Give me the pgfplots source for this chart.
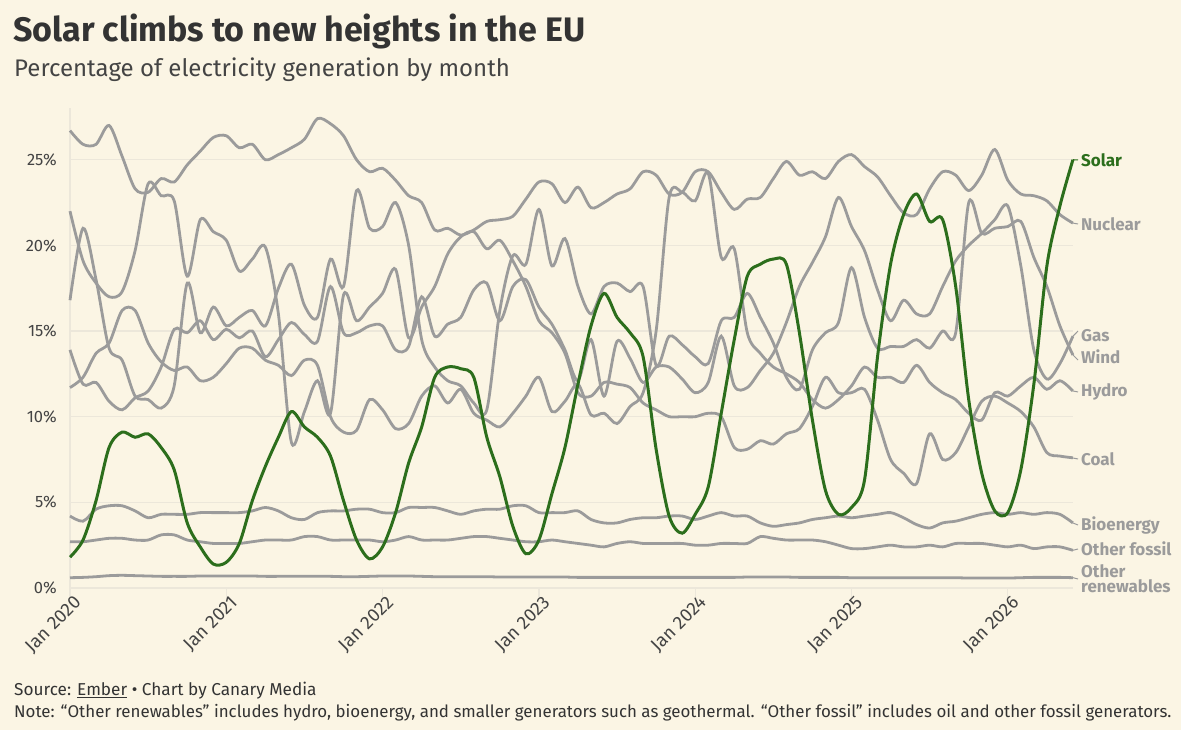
\documentclass[border=0pt]{standalone}
\usepackage{fontspec}
\setmainfont{Fira Sans}
\usepackage{pgfplots}
\usepackage{pgfplotstable}
\pgfplotsset{compat=1.18}
\definecolor{bg}{RGB}{251,245,228}
\definecolor{gridc}{RGB}{236,231,218}
\definecolor{lg}{RGB}{155,155,155}
\definecolor{sol}{RGB}{44,110,28}
\definecolor{txt}{RGB}{51,51,51}
\definecolor{txt2}{RGB}{68,68,68}

\pgfplotstableread{
i nuc coal wind gas hydro solar bio ofos oren
0 26.7 22.0 16.8 13.9 11.7 1.8 4.2 2.7 0.60
1 25.9 19.1 21.0 11.9 12.3 2.8 3.9 2.7 0.62
2 25.9 17.8 18.0 12.0 13.7 5.1 4.6 2.8 0.66
3 27.0 17.0 14.0 10.9 14.3 8.2 4.8 2.9 0.72
4 25.2 17.3 13.3 10.4 16.2 9.1 4.8 2.9 0.74
5 23.3 19.7 11.2 11.1 16.2 8.8 4.5 2.8 0.72
6 23.1 23.6 11.0 11.5 14.3 9.0 4.1 2.8 0.70
7 23.9 22.9 10.5 12.9 13.2 8.2 4.3 3.1 0.68
8 23.7 22.6 11.8 15.1 12.7 6.9 4.3 3.1 0.68
9 24.7 18.2 17.8 14.9 12.9 3.8 4.3 2.8 0.68
10 25.5 21.5 14.9 15.6 12.1 2.4 4.4 2.7 0.70
11 26.3 20.8 16.4 14.5 12.3 1.4 4.4 2.6 0.70
12 26.4 20.3 15.3 15.1 13.1 1.5 4.4 2.6 0.70
13 25.7 18.5 15.8 14.6 14.0 2.6 4.4 2.6 0.70
14 25.9 19.2 16.2 15.0 14.0 5.1 4.5 2.7 0.70
15 25.0 19.9 15.3 13.5 13.3 7.1 4.7 2.8 0.68
16 25.3 16.0 17.5 14.5 13.0 8.8 4.5 2.8 0.68
17 25.7 8.5 18.9 15.5 12.4 10.3 4.1 2.8 0.68
18 26.2 10.3 16.5 14.8 13.3 9.4 4.0 3.0 0.68
19 27.4 12.1 15.8 14.4 13.0 8.8 4.4 3.0 0.68
20 27.1 10.2 19.2 17.6 10.0 7.7 4.5 2.8 0.68
21 26.4 17.1 17.6 14.9 9.1 5.1 4.5 2.8 0.66
22 25.0 15.6 23.2 14.9 9.2 2.8 4.6 2.8 0.66
23 24.3 16.4 21.0 15.3 11.0 1.7 4.6 2.8 0.68
24 24.5 17.2 21.1 15.3 10.4 2.4 4.4 2.7 0.70
25 23.8 18.6 22.5 13.9 9.3 4.4 4.4 2.8 0.70
26 22.9 14.6 20.0 14.1 9.6 7.3 4.7 3.0 0.70
27 22.5 16.4 14.5 17.0 11.2 9.4 4.7 2.8 0.68
28 20.9 17.6 12.9 14.7 11.8 12.3 4.7 2.8 0.66
29 21.0 19.5 12.1 15.4 10.8 12.9 4.5 2.8 0.66
30 20.6 20.5 11.8 15.8 11.6 12.8 4.3 2.9 0.66
31 20.9 20.8 10.8 17.4 10.2 12.3 4.5 3.0 0.66
32 21.4 19.8 10.4 17.8 9.8 8.8 4.6 3.0 0.66
33 21.5 20.3 16.2 15.6 9.4 6.5 4.6 2.9 0.64
34 21.7 19.1 19.4 17.6 10.2 3.6 4.8 2.8 0.64
35 22.7 17.6 18.9 18.0 11.2 2.0 4.8 2.7 0.64
36 23.7 15.6 22.1 16.4 12.3 2.8 4.4 2.7 0.64
37 23.6 14.9 18.8 15.4 10.3 5.5 4.4 2.8 0.64
38 22.5 13.7 20.4 13.9 10.9 8.2 4.4 2.7 0.64
39 23.4 11.4 17.6 12.1 11.9 11.9 4.5 2.6 0.62
40 22.2 11.2 16.0 14.5 10.1 15.3 4.0 2.5 0.62
41 22.5 12.0 17.6 11.2 10.2 17.2 3.8 2.4 0.62
42 23.0 11.9 17.8 14.4 9.6 15.8 3.8 2.6 0.62
43 23.3 11.7 17.3 13.4 10.6 14.9 4.0 2.7 0.62
44 24.3 10.8 17.6 12.0 11.4 13.5 4.1 2.6 0.62
45 24.1 10.4 13.0 12.9 15.0 8.1 4.1 2.6 0.62
46 23.0 10.0 14.7 12.9 22.8 4.2 4.2 2.6 0.62
47 23.1 10.0 14.2 12.2 23.1 3.2 4.2 2.6 0.62
48 24.3 10.0 13.5 11.4 22.6 4.3 4.0 2.5 0.62
49 24.3 10.2 13.1 12.0 24.2 5.9 4.2 2.5 0.62
50 23.1 10.0 15.6 14.7 19.3 10.2 4.4 2.6 0.62
51 22.1 8.2 15.8 11.8 19.8 14.5 4.2 2.6 0.62
52 22.7 8.1 17.2 11.7 14.9 18.2 4.2 2.6 0.64
53 22.8 8.6 15.8 12.7 13.7 18.9 3.8 3.0 0.64
54 23.9 8.4 14.3 13.7 12.9 19.2 3.6 2.9 0.64
55 24.9 9.0 12.3 15.5 12.5 18.9 3.7 2.8 0.64
56 24.1 9.3 11.6 17.6 12.0 14.9 3.8 2.8 0.62
57 24.3 10.6 13.9 19.0 11.0 9.8 4.0 2.8 0.62
58 23.9 12.3 14.9 20.5 10.5 5.7 4.1 2.7 0.62
59 24.9 11.4 15.5 22.8 11.0 4.3 4.2 2.5 0.62
60 25.3 11.4 18.7 21.1 11.8 4.7 4.1 2.3 0.60
61 24.6 11.6 15.8 19.7 12.9 6.3 4.2 2.3 0.60
62 24.0 9.8 14.0 17.4 12.3 13.5 4.3 2.4 0.60
63 22.9 7.5 14.1 15.6 12.3 18.9 4.4 2.5 0.60
64 21.9 6.7 14.1 16.8 12.0 21.8 4.1 2.4 0.60
65 21.8 6.1 14.5 16.0 13.0 23.0 3.7 2.4 0.60
66 23.3 9.0 14.0 16.0 12.0 21.4 3.5 2.5 0.60
67 24.3 7.5 15.0 17.6 11.4 21.5 3.8 2.4 0.60
68 24.1 7.9 14.9 19.1 11.0 17.6 3.9 2.6 0.60
69 23.2 9.4 22.5 20.0 10.2 11.0 4.1 2.6 0.58
70 24.1 10.9 20.7 20.7 9.8 6.7 4.3 2.6 0.58
71 25.6 11.2 21.0 21.5 11.4 4.5 4.4 2.5 0.58
72 23.8 10.8 21.1 22.3 11.2 4.4 4.3 2.4 0.58
73 23.0 10.3 21.4 18.8 11.8 6.9 4.4 2.5 0.60
74 22.9 9.4 19.3 13.9 12.3 11.9 4.3 2.3 0.62
75 22.6 7.9 17.6 12.2 11.6 18.8 4.4 2.4 0.62
76 21.8 7.7 15.3 13.1 12.1 22.3 4.3 2.4 0.62
77 21.3 7.6 13.6 14.7 11.5 25.0 3.8 2.2 0.60
}\data

\begin{document}
\begin{tikzpicture}[x=1pt,y=1pt]
\path[use as bounding box] (0pt,0pt) rectangle (1181pt,730pt);
\fill[bg] (0pt,0pt) rectangle (1181pt,730pt);
\node[anchor=base west, inner sep=0pt, text=txt, font=\fontsize{34}{40}\selectfont\bfseries] at (13pt,688.5pt) {Solar climbs to new heights in the EU};
\node[anchor=base west, inner sep=0pt, text=txt2, font=\fontsize{24}{29}\selectfont] at (14pt,653.5pt) {Percentage of electricity generation by month};
\node[anchor=base west, inner sep=0pt, text=txt, font=\fontsize{17.2}{20}\selectfont] at (14pt,34pt) {Source: \underline{Ember} • Chart by Canary Media};
\node[anchor=base west, inner sep=0pt, text=txt, font=\fontsize{16.9}{20}\selectfont] at (14pt,12.5pt) {Note: “Other renewables” includes hydro, bioenergy, and smaller generators such as geothermal. “Other fossil” includes oil and other fossil generators.};

\begin{axis}[
  at={(70pt,142pt)}, anchor=origin, scale only axis,
  width=1003pt, height=479.64pt,
  xmin=0, xmax=77, ymin=0, ymax=28,
  axis x line*=bottom, axis y line*=left,
  x axis line style={draw=none},
  y axis line style={draw=gridc, line width=1.2pt},
  axis line style={-},
  ymajorgrids, grid style={draw=gridc, line width=1.2pt},
  ytick={0,5,10,15,20,25},
  yticklabels={0\%,5\%,10\%,15\%,20\%,25\%},
  ytick style={draw=none},
  yticklabel style={font=\fontsize{16.5}{19}\selectfont, text=txt2, anchor=east, inner sep=0pt, xshift=-13pt},
  xtick={0,12,24,36,48,60,72},
  xticklabels={Jan 2020,Jan 2021,Jan 2022,Jan 2023,Jan 2024,Jan 2025,Jan 2026},
  xtick align=outside, major tick length=9pt,
  xtick style={draw=gridc, line width=1.2pt},
  xticklabel style={font=\fontsize{18.5}{21}\selectfont, text=txt2, rotate=45, anchor=east, inner sep=0pt, xshift=4pt, yshift=-8pt},
  clip=false,
  every axis plot/.append style={smooth, tension=0.5},
]
\addplot[lg, line width=2.8pt] table[x=i,y=oren]{\data};
\addplot[lg, line width=2.8pt] table[x=i,y=ofos]{\data};
\addplot[lg, line width=2.8pt] table[x=i,y=bio]{\data};
\addplot[lg, line width=2.8pt] table[x=i,y=coal]{\data};
\addplot[lg, line width=2.8pt] table[x=i,y=hydro]{\data};
\addplot[lg, line width=2.8pt] table[x=i,y=wind]{\data};
\addplot[lg, line width=2.8pt] table[x=i,y=gas]{\data};
\addplot[lg, line width=2.8pt] table[x=i,y=nuc]{\data};
\addplot[sol, line width=3pt] table[x=i,y=solar]{\data};
\end{axis}

\begin{scope}[every node/.style={anchor=west, inner sep=0pt, font=\fontsize{17}{19}\selectfont\bfseries, text=lg}]
\node[text=sol] at (1081pt,570pt) {Solar};
\node at (1081pt,506pt) {Nuclear};
\node at (1081pt,394pt) {Gas};
\node at (1081pt,373pt) {Wind};
\node at (1081pt,338pt) {Hydro};
\node at (1081pt,271pt) {Coal};
\node at (1081pt,205pt) {Bioenergy};
\node at (1081pt,181pt) {Other fossil};
\node at (1081pt,159pt) {Other};
\node at (1081pt,144pt) {renewables};
\end{scope}
\begin{scope}[lg, line width=1pt]
\draw[sol] (1073pt,570.3pt) -- (1078pt,570pt);
\draw (1073pt,506.9pt) -- (1078pt,506pt);
\draw (1073pt,393.8pt) -- (1078pt,399pt);
\draw (1073pt,375pt) -- (1078pt,370pt);
\draw (1073pt,339pt) -- (1078pt,338pt);
\draw (1073pt,272pt) -- (1078pt,271pt);
\draw (1073pt,207pt) -- (1078pt,205pt);
\draw (1073pt,179.7pt) -- (1078pt,181pt);
\draw (1073pt,152.3pt) -- (1078pt,151pt);
\end{scope}
\end{tikzpicture}
\end{document}
